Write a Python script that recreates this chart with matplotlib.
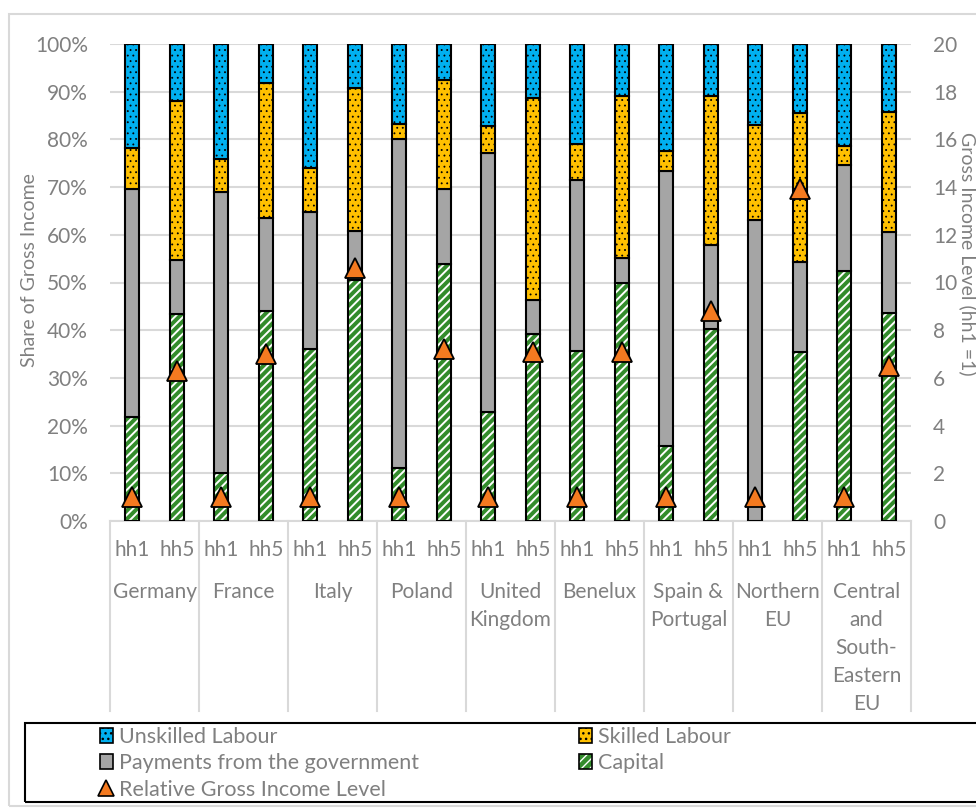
import numpy as np
import matplotlib
matplotlib.use("Agg")
import matplotlib.pyplot as plt
from matplotlib.patches import Patch, Rectangle
from matplotlib.lines import Line2D
from matplotlib.legend_handler import HandlerTuple

plt.rcParams['font.family'] = ['Lato', 'DejaVu Sans']

regions = ['Germany', 'France', 'Italy', 'Poland', 'United\nKingdom', 'Benelux',
           'Spain &\nPortugal', 'Northern\nEU', 'Central\nand\nSouth-\nEastern\nEU']
households = ['hh1', 'hh5']

# shares of gross income (%), order hh1, hh5 per region
capital = [21.8, 43.4, 10.1, 44.0, 36.0, 50.5, 11.1, 53.8, 22.8, 39.1,
           35.7, 49.9, 15.7, 40.3, 0.0, 35.5, 52.4, 43.6]
government = [47.9, 11.4, 58.8, 19.6, 28.8, 10.3, 69.0, 15.7, 54.4, 7.2,
              35.8, 5.3, 57.6, 17.5, 63.2, 18.7, 22.2, 16.9]
skilled = [8.4, 33.2, 7.0, 28.3, 9.3, 30.0, 3.1, 22.9, 5.7, 42.4,
           7.5, 33.9, 4.3, 31.2, 19.8, 31.3, 4.1, 25.2]
unskilled = [21.9, 12.0, 24.1, 8.1, 25.9, 9.2, 16.8, 7.6, 17.1, 11.3,
             21.0, 10.9, 22.4, 11.0, 17.0, 14.5, 21.3, 14.3]
income_level = [1, 6.3, 1, 7.0, 1, 10.6, 1, 7.2, 1, 7.1,
                1, 7.1, 1, 8.8, 1, 13.9, 1, 6.5]

c_blue = '#00B0F0'
c_yellow = '#FFC000'
c_gray = '#A5A5A5'
c_green = '#338C2C'
c_orange = '#F47A20'
txt = '#808080'
grid_c = '#D9D9D9'
fs = 15

W, H = 976, 808
fig = plt.figure(figsize=(W / 100, H / 100), dpi=100)
ax = fig.add_axes([110 / W, 1 - 521 / H, 801 / W, 477 / H])

x = np.arange(len(capital))
bw = 0.32
cap = np.array(capital)
gov = np.array(government)
skl = np.array(skilled)
uns = np.array(unskilled)

# capital: white diagonal hatch on green, then black outline
with plt.rc_context({'hatch.linewidth': 1.4}):
    ax.bar(x, cap, bw, color=c_green, edgecolor='white', hatch='////', linewidth=0, zorder=2)
ax.bar(x, cap, bw, fill=False, edgecolor='black', linewidth=1.5, zorder=3)
ax.bar(x, gov, bw, bottom=cap, color=c_gray, edgecolor='black', linewidth=1.5, zorder=3)
with plt.rc_context({'hatch.linewidth': 0.6}):
    ax.bar(x, skl, bw, bottom=cap + gov, color=c_yellow, edgecolor='black',
           hatch='...', linewidth=1.5, zorder=3)
    ax.bar(x, uns, bw, bottom=cap + gov + skl, color=c_blue, edgecolor='black',
           hatch='...', linewidth=1.5, zorder=3)

ax.set_xlim(-0.5, len(x) - 0.5)
ax.set_ylim(0, 100)
ax.set_yticks(np.arange(0, 101, 10))
ax.set_yticklabels([f'{v}%' for v in range(0, 101, 10)])
ax.yaxis.grid(True, color=grid_c, linewidth=1.5, zorder=0)
ax.set_axisbelow(True)
for s in ['top', 'right', 'left']:
    ax.spines[s].set_visible(False)
ax.spines['bottom'].set_color(grid_c)
ax.spines['bottom'].set_linewidth(1.5)
ax.tick_params(axis='y', length=0, pad=16, labelsize=fs, labelcolor=txt)
ax.set_xticks([])
ax.set_ylabel('Share of Gross Income', fontsize=14, color=txt)
ax.yaxis.set_label_coords(-0.09, 0.526)

ax2 = ax.twinx()
ax2.plot(x, income_level, linestyle='none', marker='^', markersize=14,
         markerfacecolor=c_orange, markeredgecolor='black', markeredgewidth=1.3,
         zorder=5, clip_on=False)
ax2.set_ylim(0, 20)
ax2.set_yticks(np.arange(0, 21, 2))
for s in ['top', 'right', 'left', 'bottom']:
    ax2.spines[s].set_visible(False)
ax2.tick_params(axis='y', length=0, pad=16, labelsize=fs, labelcolor=txt)
ax2.set_ylabel('Gross Income Level (hh1 =1)', fontsize=14, color=txt, rotation=270)
ax2.yaxis.set_label_coords(1.082, 0.56)

# multi-level category axis
tr = ax.get_xaxis_transform()
for i in range(len(regions) + 1):
    ax.plot([2 * i - 0.5, 2 * i - 0.5], [0, -0.398], color=grid_c, linewidth=1.5,
            transform=tr, clip_on=False)
for i in x:
    ax.text(i, -0.061, households[i % 2], transform=tr, ha='center', va='center',
            fontsize=fs, color=txt)
for j, r in enumerate(regions):
    ax.text(2 * j + 0.5, -0.128, r, transform=tr, ha='center', va='top',
            fontsize=fs, color=txt, linespacing=1.5)

# outer chart border and legend box
fig.patches.append(Rectangle((9 / W, 1 - 806 / H), 1.0, 792 / H, transform=fig.transFigure,
                             fill=False, edgecolor=grid_c, linewidth=1.5, zorder=0))
fig.patches.append(Rectangle((25 / W, 1 - 802 / H), 1.0, 79 / H, transform=fig.transFigure,
                             fill=False, edgecolor='black', linewidth=1.5, zorder=1))

with plt.rc_context({'hatch.linewidth': 0.6}):
    h_uns = Patch(facecolor=c_blue, edgecolor='black', hatch='...', linewidth=1.2)
    h_skl = Patch(facecolor=c_yellow, edgecolor='black', hatch='...', linewidth=1.2)
h_gov = Patch(facecolor=c_gray, edgecolor='black', linewidth=1.2)
with plt.rc_context({'hatch.linewidth': 1.4}):
    h_cap = (Patch(facecolor=c_green, edgecolor='white', hatch='////', linewidth=0),
             Patch(fill=False, edgecolor='black', linewidth=1.2))
h_inc = Line2D([], [], linestyle='none', marker='^', markersize=11,
               markerfacecolor=c_orange, markeredgecolor='black', markeredgewidth=1.2)
leg = fig.legend([h_uns, h_gov, h_inc, h_skl, h_cap],
                 ['Unskilled Labour', 'Payments from the government',
                  'Relative Gross Income Level', 'Skilled Labour', 'Capital'],
                 handler_map={tuple: HandlerTuple(ndivide=1, pad=0)},
                 loc='upper left', bbox_to_anchor=(100 / W, 1 - 727 / H),
                 ncol=2, frameon=False, fontsize=15.5, labelcolor=txt,
                 handlelength=0.6, handleheight=0.7, handletextpad=0.3,
                 columnspacing=7.4, labelspacing=0.3, borderaxespad=0, borderpad=0)

fig.savefig('out.png', dpi=100)
